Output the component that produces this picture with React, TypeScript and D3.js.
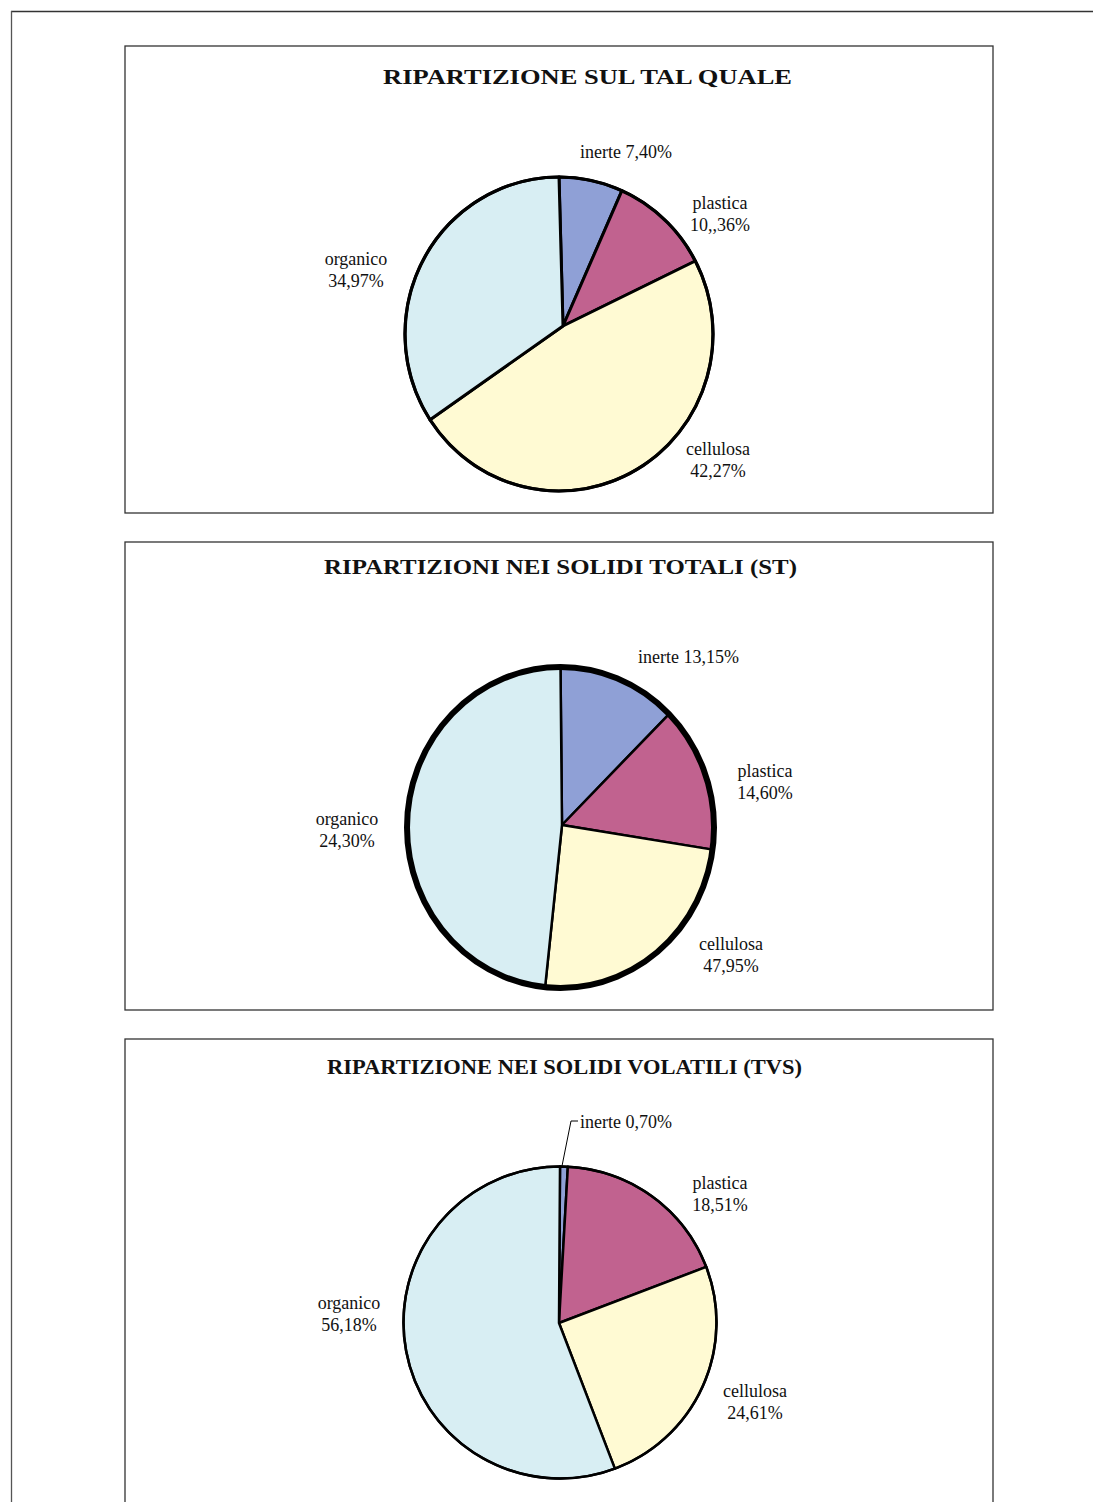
import React from 'react';
import * as d3 from 'd3';

// ---- data ----
const categories = ['inerte', 'plastica', 'cellulosa', 'organico'];
const sliceColors = ['#8fa0d6', '#c1628f', '#fffad3', '#d8eef3'];

const titles = [
  'RIPARTIZIONE SUL TAL QUALE',
  'RIPARTIZIONI NEI SOLIDI TOTALI  (ST)',
  'RIPARTIZIONE NEI SOLIDI VOLATILI (TVS)',
];

// slice sizes as drawn in the picture (%)
const sliceTalQuale = [6.7, 10.6, 48.5, 34.2];
const sliceST = [12.5, 14.7, 24.4, 48.4];
const sliceTVS = [0.8, 18.4, 25.1, 55.7];

// printed label values
const labelTalQuale = ['7,40%', '10,,36%', '42,27%', '34,97%'];
const labelST = ['13,15%', '14,60%', '47,95%', '24,30%'];
const labelTVS = ['0,70%', '18,51%', '24,61%', '56,18%'];

// ---- layout ----
type Lbl = { x: number; y: number; inline?: boolean; anchor?: string };
type Layout = {
  panelY: number; panelH: number;
  titleX0: number; titleX1: number; titleY: number;
  cx: number; cy: number; rx: number; ry: number; ax: number; ay: number;
  inner: number; outer: number;
  labels: Lbl[];
  leader?: [number, number][];
};

const layouts: Layout[] = [
  {
    panelY: 46, panelH: 467, titleX0: 383, titleX1: 792, titleY: 84,
    cx: 559, cy: 334, rx: 154, ry: 157, ax: 563, ay: 326, inner: 3, outer: 3.2,
    labels: [
      { x: 580, y: 158, inline: true, anchor: 'start' },
      { x: 720, y: 209 },
      { x: 718, y: 455 },
      { x: 356, y: 265 },
    ],
  },
  {
    panelY: 542, panelH: 468, titleX0: 324, titleX1: 797, titleY: 574,
    cx: 560.5, cy: 827.5, rx: 153.5, ry: 160.5, ax: 562, ay: 825, inner: 2.5, outer: 6,
    labels: [
      { x: 638, y: 663, inline: true, anchor: 'start' },
      { x: 765, y: 777 },
      { x: 731, y: 950 },
      { x: 347, y: 825 },
    ],
  },
  {
    panelY: 1039, panelH: 480, titleX0: 327, titleX1: 802, titleY: 1074,
    cx: 560, cy: 1322.5, rx: 156.5, ry: 156, ax: 559, ay: 1323, inner: 2.5, outer: 2.5,
    labels: [
      { x: 580, y: 1128, inline: true, anchor: 'start' },
      { x: 720, y: 1189 },
      { x: 755, y: 1397 },
      { x: 349, y: 1309 },
    ],
    leader: [[578, 1121], [571, 1121], [562, 1166]],
  },
];

const charts = [
  { slices: sliceTalQuale, labels: labelTalQuale },
  { slices: sliceST, labels: labelST },
  { slices: sliceTVS, labels: labelTVS },
];

const FONT = '"Liberation Serif", "Times New Roman", serif';

function Pie({ idx }: { idx: number }) {
  const L = layouts[idx];
  const { slices, labels } = charts[idx];
  const pie = d3.pie<number>().sort(null).value((d) => d);
  const arcs = pie(slices);
  const pt = (a: number): [number, number] => [L.cx + L.rx * Math.sin(a), L.cy - L.ry * Math.cos(a)];
  const slicePath = (a0: number, a1: number) => {
    const [x0, y0] = pt(a0);
    const [x1, y1] = pt(a1);
    const large = a1 - a0 > Math.PI ? 1 : 0;
    return `M${L.ax},${L.ay}L${x0},${y0}A${L.rx},${L.ry} 0 ${large} 1 ${x1},${y1}Z`;
  };
  const line = d3.line();
  return (
    <g>
      <rect x={125} y={L.panelY} width={868} height={L.panelH} fill="#fff" stroke="#333" strokeWidth={1.3} />
      <text
        x={L.titleX0}
        y={L.titleY}
        fontFamily={FONT}
        fontWeight="bold"
        fontSize={22}
        textLength={L.titleX1 - L.titleX0}
        lengthAdjust="spacingAndGlyphs"
        fill="#111"
      >
        {titles[idx]}
      </text>
      {arcs.map((a, i) => (
        <path
          key={i}
          d={slicePath(a.startAngle, a.endAngle)}
          fill={sliceColors[i]}
          stroke="#000"
          strokeWidth={L.inner}
          strokeLinejoin="round"
        />
      ))}
      <ellipse cx={L.cx} cy={L.cy} rx={L.rx} ry={L.ry} fill="none" stroke="#000" strokeWidth={L.outer} />
      {L.leader && <path d={line(L.leader) || ''} fill="none" stroke="#000" strokeWidth={1} />}
      {categories.map((c, i) => {
        const lb = L.labels[i];
        if (lb.inline) {
          return (
            <text key={c} x={lb.x} y={lb.y} fontFamily={FONT} fontSize={18} textAnchor="start" fill="#111">
              {`${c} ${labels[i]}`}
            </text>
          );
        }
        return (
          <text key={c} x={lb.x} y={lb.y} fontFamily={FONT} fontSize={18} textAnchor="middle" fill="#111">
            <tspan x={lb.x}>{c}</tspan>
            <tspan x={lb.x} dy={22}>{labels[i]}</tspan>
          </text>
        );
      })}
    </g>
  );
}

export default function App() {
  return (
    <svg
      width={1093}
      height={1502}
      style={{ position: 'absolute', left: 0, top: 0, background: '#fff' }}
    >
      <rect x={0} y={0} width={1093} height={1502} fill="#fff" />
      <line x1={11} y1={11.5} x2={1093} y2={11.5} stroke="#333" strokeWidth={1.3} />
      <line x1={11.5} y1={11} x2={11.5} y2={1502} stroke="#555" strokeWidth={1.3} />
      {layouts.map((_, i) => (
        <Pie key={i} idx={i} />
      ))}
    </svg>
  );
}
